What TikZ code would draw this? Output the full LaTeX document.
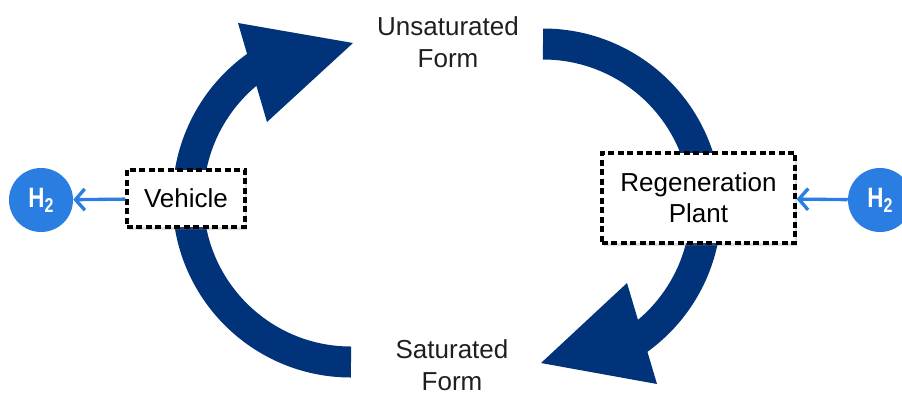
\documentclass[tikz,border=0pt]{standalone}
\usepackage{fontspec}
\setmainfont{Liberation Sans}
\newfontfamily\htwofont[FakeStretch=0.8]{Liberation Sans}
\usetikzlibrary{arrows.meta,shadows}
\definecolor{loopblue}{RGB}{0,51,122}
\definecolor{hydroblue}{RGB}{42,125,225}
\tikzset{
    loopband/.style={draw=loopblue, line width=23.25pt},
    plantbox/.style={draw=black, dash pattern=on 4.5pt off 2.6pt, line width=2.4pt, fill=white,
        drop shadow={opacity=0.25, shadow xshift=1.8pt, shadow yshift=-2.2pt},
        font=\fontsize{19.5}{23.5}\selectfont, align=center, inner sep=0pt},
    formlabel/.style={font=\fontsize{19.5}{24}\selectfont, text=black!88, align=center, inner sep=0pt},
    hydro/.style={circle, fill=hydroblue, minimum size=48pt, inner sep=0pt, text=white,
        font=\htwofont\bfseries\fontsize{21}{21}\selectfont},
    hydroarrow/.style={draw=hydroblue, line width=2.5pt, -{Straight Barb[length=7pt,width=16pt]}}
}
\begin{document}
\begin{tikzpicture}[x=0.75pt,y=0.75pt,yscale=-1,xscale=1]
        \useasboundingbox (0,0) rectangle (902,394);
        % left loop arrow
        \draw[loopband] (351,362) arc[start angle=90, end angle=235, radius=163];
        \fill[loopblue] (238,23) -- (353,43) -- (267,122) -- cycle;
        % right loop arrow
        \draw[loopband] (543,44) arc[start angle=-90, end angle=55, radius=163];
        \fill[loopblue] (657,384) -- (541,363) -- (627,283) -- cycle;
        % forms
        \node[formlabel] (unsat) at (448,42) {Unsaturated\\Form};
        \node[formlabel] (sat) at (452,365) {Saturated\\Form};
        % places
        \node[plantbox, minimum width=88.5pt, minimum height=42.75pt] (vehicle) at (186,198.5) {Vehicle};
        \node[plantbox, minimum width=144.75pt, minimum height=67.5pt] (plant) at (698.5,198) {Regeneration\\Plant};
        % hydrogen
        \node[hydro] (hleft) at (41,200) {H\raisebox{-0.35ex}{\fontsize{15}{15}\selectfont 2}};
        \node[hydro] (hright) at (880,200) {H\raisebox{-0.35ex}{\fontsize{15}{15}\selectfont 2}};
        \draw[hydroarrow] (vehicle) -- (hleft);
        \draw[hydroarrow] (hright) -- (plant);
\end{tikzpicture}
\end{document}
